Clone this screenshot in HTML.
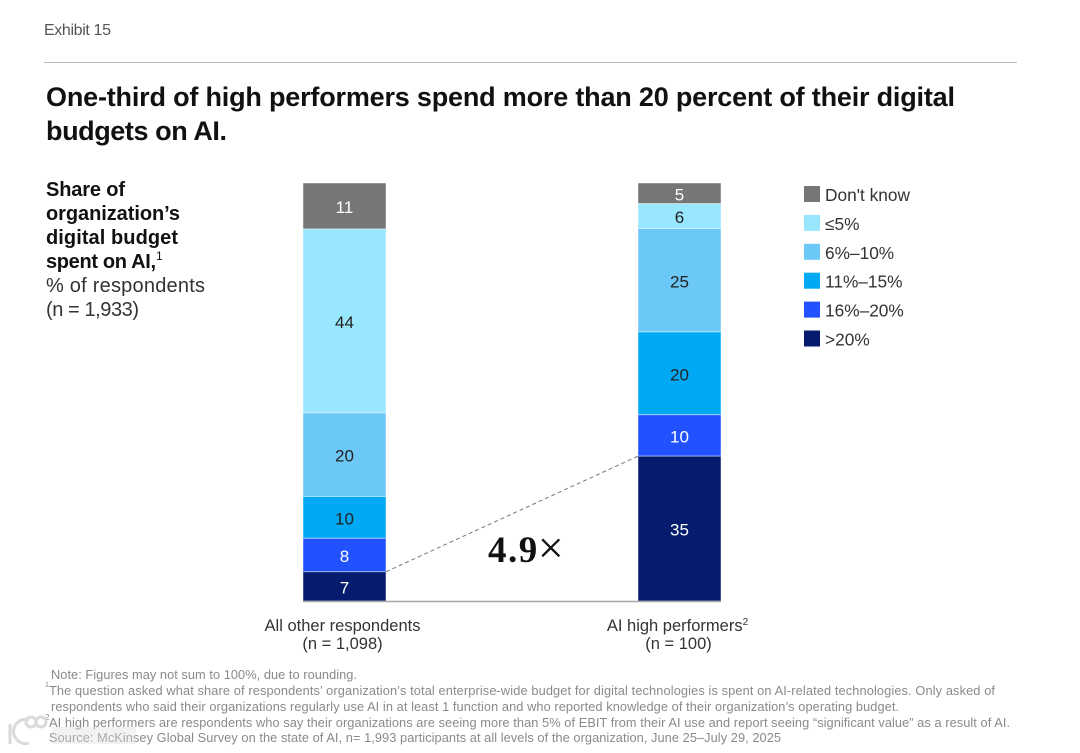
<!DOCTYPE html>
<html lang="en">
<head>
<meta charset="utf-8">
<title>Exhibit 15</title>
<style>
html,body{margin:0;padding:0;background:#fff;width:1080px;height:753px;overflow:hidden}
svg{display:block;font-family:"Liberation Sans",sans-serif}
</style>
</head>
<body>
<svg id="chart" width="1080" height="753" viewBox="0 0 1080 753" xmlns="http://www.w3.org/2000/svg">
  <text x="44" y="35" font-size="16" fill="#555" textLength="67">Exhibit 15</text>
  <rect x="44" y="62" width="973" height="1" fill="#bdbdbd"/>
  <g font-size="27" font-weight="700" fill="#111">
    <text x="46" y="106" textLength="909">One-third of high performers spend more than 20 percent of their digital</text>
    <text x="46" y="140" textLength="181">budgets on AI.</text>
  </g>
  <g font-size="20" fill="#111">
    <text x="46" y="196" font-weight="700" textLength="79">Share of</text>
    <text x="46" y="220" font-weight="700" textLength="134">organization’s</text>
    <text x="46" y="244" font-weight="700" textLength="132">digital budget</text>
    <text x="46" y="268" font-weight="700" textLength="110">spent on AI,</text>
    <text x="156" y="260" font-size="12">1</text>
    <text x="46" y="292" fill="#333" textLength="159">% of respondents</text>
    <text x="46" y="316" fill="#333" textLength="93">(n = 1,933)</text>
  </g>
  <g id="bars"></g>
  <line x1="303" y1="601.5" x2="721" y2="601.5" stroke="#a8a8a8" stroke-width="1.5"/>
  <line id="connector" stroke="#777" stroke-width="1" stroke-dasharray="4 3"/>
  <text x="488" y="562" font-family="'Liberation Serif',serif" font-size="37" font-weight="700" fill="#111" letter-spacing="1.5">4.9<tspan font-weight="400" font-size="46" dy="1" dx="-1">×</tspan></text>
  <g id="categories" font-size="16.5" fill="#333" text-anchor="middle"></g>
  <g id="legend" font-size="17.3" fill="#333"></g>
  <g font-size="12.8" fill="#8a8a8a">
    <text x="51" y="679" textLength="306">Note: Figures may not sum to 100%, due to rounding.</text>
    <text x="45" y="687" font-size="7">1</text>
    <text x="49" y="695" textLength="946">The question asked what share of respondents’ organization’s total enterprise-wide budget for digital technologies is spent on AI-related technologies. Only asked of</text>
    <text x="51" y="711" textLength="848">respondents who said their organizations regularly use AI in at least 1 function and who reported knowledge of their organization’s operating budget.</text>
    <text x="45" y="720" font-size="8">2</text>
    <text x="49" y="727" textLength="961">AI high performers are respondents who say their organizations are seeing more than 5% of EBIT from their AI use and report seeing “significant value” as a result of AI.</text>
    <text x="49" y="742" textLength="732">Source: McKinsey Global Survey on the state of AI, n= 1,993 participants at all levels of the organization, June 25–July 29, 2025</text>
  </g>
  <g fill="none" stroke="#d4d4d4" stroke-width="3" opacity="0.85">
    <path d="M10 724 L10 744"/>
    <path d="M29 720 A12 12 0 1 0 29 743"/>
    <circle cx="31" cy="722" r="5"/>
    <circle cx="41" cy="722" r="5"/>
    <rect x="52" y="727" width="84" height="17" fill="#dedede" stroke="none" opacity="0.45"/>
  </g>
</svg>
<script>
const categories = ["All other respondents", "AI high performers"];
const categoryCounts = ["(n = 1,098)", "(n = 100)"];
const seriesNames = ["Don't know", "≤5%", "6%–10%", "11%–15%", "16%–20%", ">20%"];
const seriesColors = ["#767676", "#99e6ff", "#6cc8f7", "#00a9f4", "#2251ff", "#051c6e"];
const labelColors = ["#fff", "#222", "#222", "#222", "#fff", "#fff"];
const allOtherValues = [11, 44, 20, 10, 8, 7];
const highPerformerValues = [5, 6, 25, 20, 10, 35];
const seriesValues = [allOtherValues, highPerformerValues];

const NS = "http://www.w3.org/2000/svg";
const plotTop = 183, plotBottom = 601, barWidth = 83;
const barLeft = i => 303 + i * 335;
const total = vals => vals.reduce((a, b) => a + b, 0);
const yScale = (v, sum) => (plotBottom - plotTop) * v / sum;

function make(tag, attrs, parent, text) {
  const el = document.createElementNS(NS, tag);
  for (const k in attrs) el.setAttribute(k, attrs[k]);
  if (text !== undefined) el.textContent = text;
  parent.appendChild(el);
  return el;
}

const barsGroup = document.getElementById("bars");
const connectorPoints = [];
seriesValues.forEach((vals, b) => {
  const sum = total(vals);
  let y = plotTop;
  vals.forEach((v, s) => {
    const h = yScale(v, sum);
    const rect = make("rect", {x: barLeft(b), y: y, width: barWidth, height: h, fill: seriesColors[s], stroke: "#fff", "stroke-opacity": 0.45, "stroke-width": 1}, barsGroup);
    
    
    const label = make("text", {x: barLeft(b) + barWidth / 2, y: y + h / 2 + 7, "text-anchor": "middle", "font-size": 17, fill: labelColors[s]}, barsGroup, v);
    
    
    if (s === vals.length - 1) connectorPoints.push({x: b === 0 ? barLeft(b) + barWidth : barLeft(b), y: y});
    y += h;
  });
});

const connector = document.getElementById("connector");
connector.setAttribute("x1", connectorPoints[0].x);
connector.setAttribute("y1", connectorPoints[0].y);
connector.setAttribute("x2", connectorPoints[1].x);
connector.setAttribute("y2", connectorPoints[1].y);

const catGroup = document.getElementById("categories");
categories.forEach((name, i) => {
  const cx = barLeft(i) + barWidth / 2 - (i === 0 ? 2 : 2);
  const t = make("text", {x: cx, y: 631}, catGroup, name);
  
  
  if (i === 1) {
    const sup = make("tspan", {"font-size": 10, dy: -6}, t, "2");
    
    
  }
  const n = make("text", {x: barLeft(i) + barWidth / 2 - (i === 0 ? 2 : 1), y: 649}, catGroup, categoryCounts[i]);
  
  
});

const legendGroup = document.getElementById("legend");
seriesNames.forEach((name, i) => {
  const y = 186 + i * 28.9;
  const sw = make("rect", {x: 804, y: y, width: 16, height: 16, fill: seriesColors[i]}, legendGroup);
  
  
  const t = make("text", {x: 825, y: y + 15}, legendGroup, name);
  
  
});
</script>
</body>
</html>
